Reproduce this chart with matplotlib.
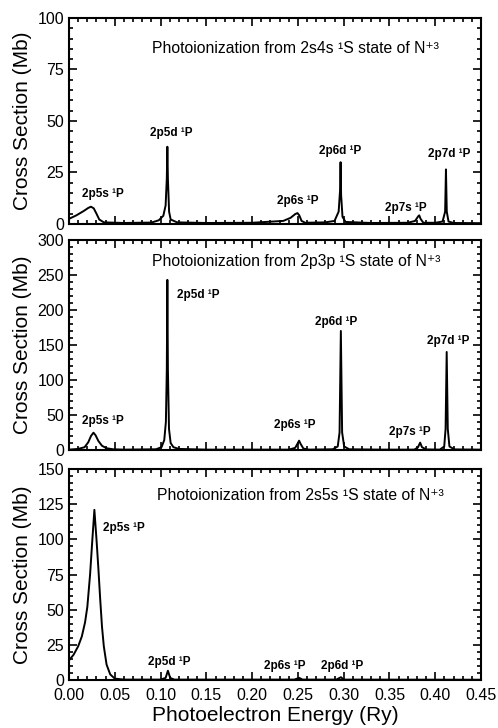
import matplotlib
matplotlib.use("Agg")
import matplotlib.pyplot as plt
from matplotlib.ticker import MultipleLocator

plt.rcParams['font.family'] = ['Liberation Sans', 'DejaVu Sans']

# photoelectron energy (Ry) / cross section (Mb), 2s4s 1S initial state
x_2s4s = [0.000, 0.008, 0.016, 0.021, 0.024, 0.027, 0.030, 0.033, 0.038, 0.060,
          0.090, 0.098, 0.103, 0.1055, 0.1068, 0.1074, 0.1080, 0.1093, 0.111, 0.118,
          0.150, 0.200, 0.234, 0.242, 0.247, 0.2495, 0.2515, 0.254, 0.258, 0.280,
          0.290, 0.2945, 0.2960, 0.2966, 0.2972, 0.2987, 0.302, 0.330, 0.370, 0.378,
          0.3815, 0.3825, 0.3840, 0.387, 0.400, 0.408, 0.4108, 0.4117, 0.4126, 0.4145,
          0.420, 0.450]
y_2s4s = [2.5, 4.2, 6.3, 7.8, 8.4, 7.6, 5.0, 2.2, 0.8, 0.5,
          0.7, 1.8, 4.0, 9.0, 22.0, 37.5, 22.0, 6.0, 2.2, 0.8,
          0.5, 0.6, 1.5, 3.0, 4.8, 5.3, 4.2, 1.5, 0.6, 0.8,
          1.5, 6.0, 16.0, 30.0, 14.0, 3.5, 1.0, 0.5, 0.6, 1.5,
          3.8, 4.2, 2.5, 0.6, 0.6, 1.2, 6.0, 26.5, 6.0, 1.2,
          0.5, 0.4]

# 2p3p 1S initial state
x_2p3p = [0.000, 0.010, 0.017, 0.021, 0.024, 0.0267, 0.029, 0.032, 0.036, 0.041,
          0.048, 0.060, 0.095, 0.101, 0.104, 0.1058, 0.1068, 0.1074, 0.1080, 0.1092,
          0.111, 0.114, 0.120, 0.150, 0.240, 0.247, 0.2500, 0.2513, 0.2528, 0.256,
          0.262, 0.288, 0.2935, 0.2955, 0.2969, 0.2983, 0.3005, 0.306, 0.340, 0.377,
          0.381, 0.3835, 0.3855, 0.390, 0.405, 0.4098, 0.4113, 0.4125, 0.4137, 0.4155,
          0.421, 0.450]
y_2p3p = [0.5, 1.5, 4.0, 11.0, 20.0, 24.7, 21.0, 13.0, 6.0, 2.5,
          1.0, 0.5, 1.0, 4.0, 14.0, 40.0, 115.0, 243.0, 115.0, 30.0,
          10.0, 4.0, 1.5, 0.5, 0.5, 3.0, 10.0, 13.3, 9.0, 2.0,
          0.5, 1.0, 5.0, 25.0, 170.0, 25.0, 5.0, 1.0, 0.5, 0.5,
          3.5, 10.5, 4.0, 0.8, 0.5, 5.0, 30.0, 140.0, 30.0, 5.0,
          0.8, 0.5]

# 2s5s 1S initial state
x_2s5s = [0.000, 0.005, 0.010, 0.014, 0.0175, 0.020, 0.023, 0.0255, 0.0277, 0.030,
          0.032, 0.034, 0.036, 0.038, 0.041, 0.045, 0.050, 0.060, 0.100, 0.1055,
          0.108, 0.1105, 0.115, 0.200, 0.246, 0.2515, 0.255, 0.292, 0.297,
          0.300, 0.450]
y_2s5s = [14.0, 18.0, 24.0, 31.0, 41.0, 52.0, 75.0, 100.0, 121.0, 100.0,
          80.0, 58.0, 38.0, 24.0, 11.0, 4.0, 1.0, 0.3, 0.3, 1.5,
          6.6, 1.5, 0.3, 0.3, 0.3, 1.5, 0.3, 0.3, 2.0,
          0.3, 0.2]

titles = ['Photoionization from 2s4s \u00b9S state of N\u207a\u00b3',
          'Photoionization from 2p3p \u00b9S state of N\u207a\u00b3',
          'Photoionization from 2s5s \u00b9S state of N\u207a\u00b3']
title_pos = [(0.0907, 85.4), (0.0907, 269), (0.096, 131.5)]

labels_2s4s = [('2p5s \u00b9P', 0.037, 14.5), ('2p5d \u00b9P', 0.112, 44),
               ('2p6s \u00b9P', 0.250, 11), ('2p6d \u00b9P', 0.2965, 35.6),
               ('2p7s \u00b9P', 0.368, 8), ('2p7d \u00b9P', 0.415, 34)]
labels_2p3p = [('2p5s \u00b9P', 0.037, 41), ('2p5d \u00b9P', 0.141, 221),
               ('2p6s \u00b9P', 0.247, 36), ('2p6d \u00b9P', 0.292, 183),
               ('2p7s \u00b9P', 0.372, 26), ('2p7d \u00b9P', 0.414, 155)]
labels_2s5s = [('2p5s \u00b9P', 0.060, 108), ('2p5d \u00b9P', 0.109, 13),
               ('2p6s \u00b9P', 0.236, 10), ('2p6d \u00b9P', 0.298, 10)]

ymax = [100, 300, 150]
ymajor = [25, 50, 25]
yminor = [5, 10, 5]

fig = plt.figure(figsize=(4.98, 7.28), dpi=100)
rects = [[0.1386, 0.6923, 0.8273, 0.283],
         [0.1386, 0.3819, 0.8273, 0.2885],
         [0.1386, 0.0659, 0.8273, 0.2898]]

curves = [(x_2s4s, y_2s4s), (x_2p3p, y_2p3p), (x_2s5s, y_2s5s)]
peak_labels = [labels_2s4s, labels_2p3p, labels_2s5s]

for i in range(3):
    ax = fig.add_axes(rects[i])
    xs, ys = curves[i]
    ax.plot(xs, ys, color='black', lw=1.4)
    ax.set_xlim(0, 0.45)
    ax.set_ylim(0, ymax[i])
    ax.xaxis.set_major_locator(MultipleLocator(0.05))
    ax.xaxis.set_minor_locator(MultipleLocator(0.01))
    ax.yaxis.set_major_locator(MultipleLocator(ymajor[i]))
    ax.yaxis.set_minor_locator(MultipleLocator(yminor[i]))
    ax.tick_params(which='both', direction='in', top=True, right=True, width=1.2)
    ax.tick_params(which='major', length=6, labelsize=11.5)
    ax.tick_params(which='minor', length=3)
    ax.tick_params(axis='x', pad=6)
    for s in ax.spines.values():
        s.set_linewidth(1.5)
    ax.set_ylabel('Cross Section (Mb)', fontsize=15, labelpad=4)
    if i < 2:
        ax.set_xticklabels([])
    else:
        ax.xaxis.set_major_formatter(lambda v, p: f'{v:.2f}')
        ax.set_xlabel('Photoelectron Energy (Ry)', fontsize=15, labelpad=2)
    tx, ty = title_pos[i]
    ax.text(tx, ty, titles[i], fontsize=11.3, ha='left', va='center')
    for txt, lx, ly in peak_labels[i]:
        ax.text(lx, ly, txt, fontsize=8.5, fontweight='bold', ha='center', va='center')

fig.savefig('out.png', dpi=100)
